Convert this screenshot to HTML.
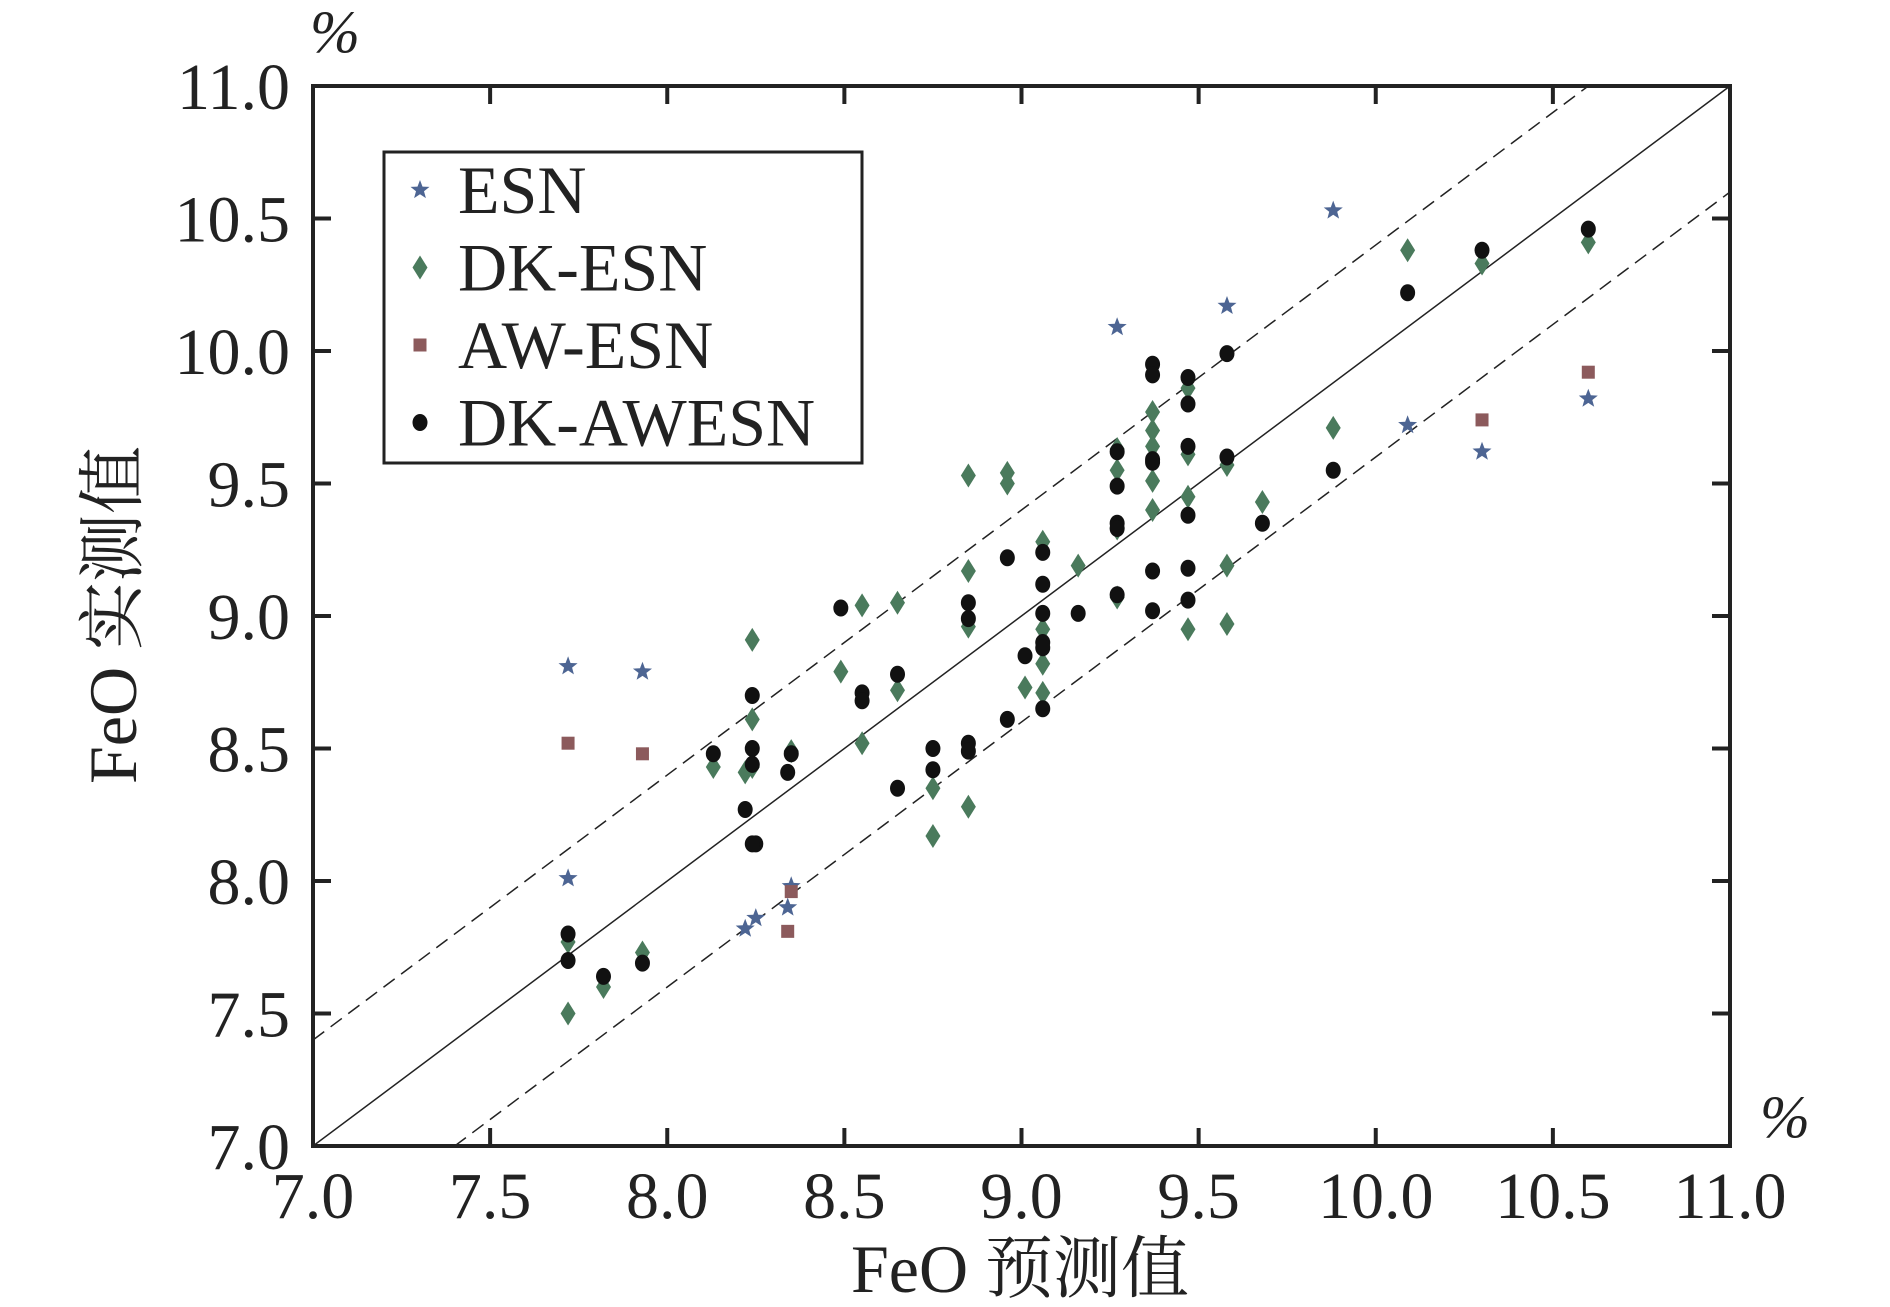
<!DOCTYPE html>
<html><head><meta charset="utf-8"><style>
html,body{margin:0;padding:0;background:#fff;}
svg{display:block;}
text{font-family:"Liberation Serif","Noto Serif CJK SC",serif;fill:#222;}
</style></head><body>
<svg id="chart" width="1890" height="1307" viewBox="0 0 1890 1307" xmlns="http://www.w3.org/2000/svg">
<g id="grid"></g>
<g id="marks"></g>
<g id="legend">
<rect x="384" y="152" width="478" height="311" fill="#fff" stroke="#222" stroke-width="3"/>
</g>
<text x="335" y="52" font-size="60" font-style="italic" text-anchor="middle">%</text>
<text x="1785" y="1137" font-size="60" font-style="italic" text-anchor="middle">%</text>
<text x="1020" y="1292" font-size="68" text-anchor="middle">FeO 预测值</text>
<text transform="translate(136,615) rotate(-90)" font-size="68" text-anchor="middle">FeO 实测值</text>
</svg>
<script>
const ticks = [7.0,7.5,8.0,8.5,9.0,9.5,10.0,10.5,11.0];
const esnX = [7.72,7.93,7.72,8.22,8.25,8.34,8.35,9.27,9.58,9.88,10.09,10.30,10.60];
const esnY = [8.81,8.79,8.01,7.82,7.86,7.90,7.98,10.09,10.17,10.53,9.72,9.62,9.82];
const awX = [7.72,7.93,8.34,8.35,10.30,10.60];
const awY = [8.52,8.48,7.81,7.96,9.74,9.92];
const dkX = [7.72,7.72,7.82,7.93,8.13,8.22,8.24,8.24,8.24,8.35,8.49,8.55,8.55,8.65,8.65,8.75,8.75,8.85,8.85,8.85,8.85,8.96,8.96,9.01,9.06,9.06,9.06,9.06,9.16,9.27,9.27,9.27,9.27,9.37,9.37,9.37,9.37,9.37,9.47,9.47,9.47,9.47,9.58,9.58,9.58,9.68,9.88,10.09,10.30,10.60];
const dkY = [7.50,7.77,7.60,7.73,8.43,8.41,8.91,8.61,8.43,8.49,8.79,9.04,8.52,9.05,8.72,8.35,8.17,9.53,9.17,8.96,8.28,9.54,9.50,8.73,9.28,8.95,8.82,8.71,9.19,9.63,9.55,9.33,9.07,9.77,9.70,9.64,9.51,9.40,9.86,9.61,9.45,8.95,9.57,9.19,8.97,9.43,9.71,10.38,10.33,10.41];
const dkawX = [7.72,7.72,7.82,7.93,8.13,8.22,8.24,8.24,8.24,8.25,8.24,8.34,8.35,8.49,8.55,8.55,8.65,8.65,8.75,8.75,8.85,8.85,8.85,8.85,8.96,8.96,9.01,9.06,9.06,9.06,9.06,9.06,9.06,9.16,9.27,9.27,9.27,9.27,9.27,9.37,9.37,9.37,9.37,9.37,9.37,9.47,9.47,9.47,9.47,9.47,9.47,9.58,9.58,9.68,9.88,10.09,10.30,10.60];
const dkawY = [7.80,7.70,7.64,7.69,8.48,8.27,8.70,8.50,8.44,8.14,8.14,8.41,8.48,9.03,8.71,8.68,8.78,8.35,8.50,8.42,9.05,8.99,8.52,8.49,9.22,8.61,8.85,9.24,9.12,9.01,8.90,8.88,8.65,9.01,9.62,9.49,9.35,9.33,9.08,9.95,9.91,9.59,9.58,9.17,9.02,9.90,9.80,9.64,9.38,9.18,9.06,9.99,9.60,9.35,9.55,10.22,10.38,10.46];

const X0=313,X1=1730,Y0=1146,Y1=86;
const sx=v=>X0+(v-7)/4*(X1-X0);
const sy=v=>Y0-(v-7)/4*(Y0-Y1);
const NS='http://www.w3.org/2000/svg';
function mk(tag,attrs,parent){const e=document.createElementNS(NS,tag);for(const k in attrs)e.setAttribute(k,attrs[k]);parent.appendChild(e);return e;}
const grid=document.getElementById('grid'), marks=document.getElementById('marks'), legend=document.getElementById('legend');

let l=mk('line',{x1:sx(7),y1:sy(7),x2:sx(11),y2:sy(11),stroke:'#222','stroke-width':1.5},grid);


l=mk('line',{x1:sx(7),y1:sy(7.4),x2:sx(10.6),y2:sy(11),stroke:'#222','stroke-width':1.5,'stroke-dasharray':'14 8'},grid);


l=mk('line',{x1:sx(7.4),y1:sy(7),x2:sx(11),y2:sy(10.6),stroke:'#222','stroke-width':1.5,'stroke-dasharray':'14 8'},grid);



const fr=mk('rect',{x:X0,y:Y1,width:X1-X0,height:Y0-Y1,fill:'none',stroke:'#222','stroke-width':4},grid);



ticks.forEach((t,i)=>{
  const x=sx(t), y=sy(t);
  if(i>0&&i<ticks.length-1){
    mk('line',{x1:x,y1:Y0,x2:x,y2:Y0-18,stroke:'#222','stroke-width':4},grid);
    mk('line',{x1:x,y1:Y1,x2:x,y2:Y1+18,stroke:'#222','stroke-width':4},grid);
    mk('line',{x1:X0,y1:y,x2:X0+18,y2:y,stroke:'#222','stroke-width':4},grid);
    mk('line',{x1:X1,y1:y,x2:X1-18,y2:y,stroke:'#222','stroke-width':4},grid);
  }
  const tx=mk('text',{x:x,y:1218,'font-size':66,'text-anchor':'middle'},grid);
  tx.textContent=t.toFixed(1);
  
  
  const ty=mk('text',{x:290,y:y+23,'font-size':66,'text-anchor':'end'},grid);
  ty.textContent=t.toFixed(1);
  
  
});

function star(cx,cy,r){let p=[];for(let k=0;k<10;k++){const a=-Math.PI/2+k*Math.PI/5;const rr=k%2?r*0.42:r;p.push((cx+rr*Math.cos(a)).toFixed(1)+','+(cy+rr*Math.sin(a)).toFixed(1));}return p.join(' ');}
function drawMarker(type,x,y,parent){
  let e;
  if(type==='star') e=mk('polygon',{points:star(x,y,10),fill:'#4d6593'},parent);
  else if(type==='diamond') e=mk('polygon',{points:`${x},${y-12} ${x+7.5},${y} ${x},${y+12} ${x-7.5},${y}`,fill:'#4a7a5c'},parent);
  else if(type==='square') e=mk('rect',{x:x-6.5,y:y-6.5,width:13,height:13,fill:'#8c5a5c'},parent);
  else e=mk('ellipse',{cx:x,cy:y,rx:7.5,ry:8.5,fill:'#111'},parent);
  return e;
}
const series=[['star',esnX,esnY,'esn-point'],['diamond',dkX,dkY,'dk-esn-point'],['square',awX,awY,'aw-esn-point'],['circle',dkawX,dkawY,'dk-awesn-point']];
series.forEach(([type,xs,ys,name])=>{
  xs.forEach((v,i)=>{
    const e=drawMarker(type,sx(v),sy(ys[i]),marks);
    
    
  });
});

const legNames=['ESN','DK-ESN','AW-ESN','DK-AWESN'];
const legTypes=['star','diamond','square','circle'];
legNames.forEach((n,i)=>{
  const y=190+i*77.5;
  const m=drawMarker(legTypes[i],420,y,legend);
  
  
  const t=mk('text',{x:458,y:y+23,'font-size':68},legend);
  t.textContent=n;
  
  
});
</script>
</body></html>
